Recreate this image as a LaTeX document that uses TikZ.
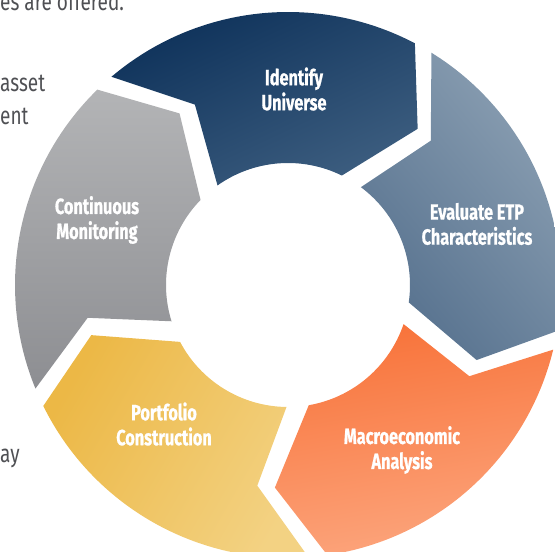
\documentclass[tikz,border=0pt]{standalone}
\usepackage{fontspec}
\newfontfamily\labfont[FakeStretch=0.76]{Fira Sans}
\newfontfamily\labboldfont[FakeStretch=0.74,FakeBold=0.8]{Fira Sans Bold}
\definecolor{navyA}{HTML}{0B2F58}
\definecolor{navyB}{HTML}{3C5D7F}
\definecolor{slateA}{HTML}{56718E}
\definecolor{slateB}{HTML}{8DA1B4}
\definecolor{orangeA}{HTML}{F8733A}
\definecolor{orangeB}{HTML}{FCA67E}
\definecolor{goldA}{HTML}{ECB846}
\definecolor{goldB}{HTML}{F3D283}
\definecolor{greyA}{HTML}{B3B4B6}
\definecolor{greyB}{HTML}{8D8E92}
\definecolor{textgray}{HTML}{4F5054}
\begin{document}
\begin{tikzpicture}[x=1pt,y=1pt,
  seglabel/.style={text=white, align=center, inner sep=0pt,
    font=\labboldfont\fontsize{22}{25}\selectfont},
  sidetext/.style={text=textgray, inner sep=0pt, anchor=base west,
    font=\labfont\fontsize{25}{33}\selectfont}]
\useasboundingbox (0,0) rectangle (555,552);
\begin{scope}
  \clip (0,0) rectangle (555,552);
  % five chevron ring segments, tip angle / gradient colours / gradient angle
  \begin{scope}[shift={(288,267)}]
    \foreach \t/\ca/\cb/\ang in {50.3/navyA/navyB/25, -21.7/slateB/slateA/-50,
        -93.7/orangeA/orangeB/10, -165.7/goldA/goldB/60, 122.3/greyA/greyB/0} {
      \shade[top color=\ca, bottom color=\cb, shading angle=\ang]
        (\t+80:273) arc[start angle=\t+80, end angle=\t+12, radius=273]
        -- (\t:203) -- (\t+13.5:122)
        arc[start angle=\t+13.5, end angle=\t+75, radius=122]
        -- (\t+67:203) -- cycle;
    }
  \end{scope}
  % fragments of the surrounding text
  \node[sidetext] (offered) at (0,541) {es are offered.};
  \node[sidetext] (asset) at (0,460) {asset};
  \node[sidetext] (ent) at (0,427) {ent};
  \node[sidetext] (ay) at (0,89) {ay};
\end{scope}
% segment labels
\node[seglabel] (identify) at (294,463) {Identify\\Universe};
\node[seglabel] (evaluate) at (477,328) {Evaluate ETP\\Characteristics};
\node[seglabel] (macro) at (402,102) {Macroeconomic\\Analysis};
\node[seglabel] (portfolio) at (164,128) {Portfolio\\Construction};
\node[seglabel] (monitor) at (97,332) {Continuous\\Monitoring};
\end{tikzpicture}
\end{document}
